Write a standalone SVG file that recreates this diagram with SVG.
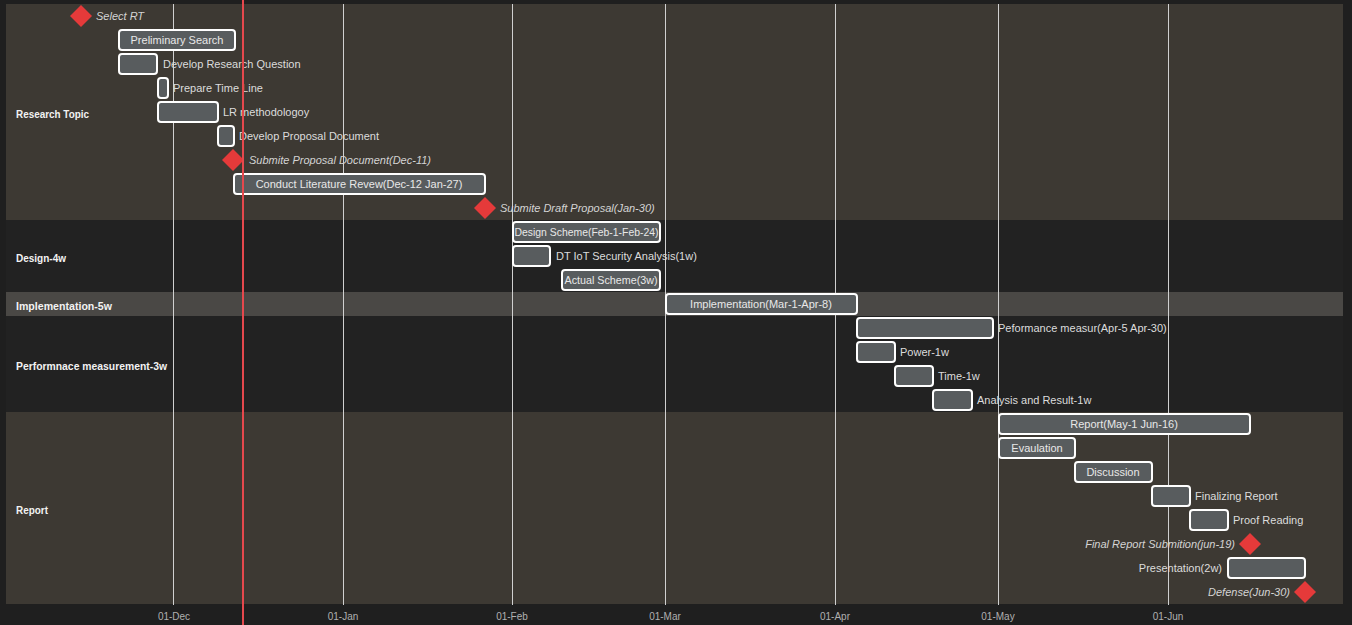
<svg xmlns="http://www.w3.org/2000/svg" width="1352" height="625" viewBox="0 0 1352 625">
<style>
text{font-family:"Liberation Sans",Arial,sans-serif;font-size:11px}
.sec{font-weight:bold;fill:#f2f2f2}
.bar{fill:#585c5e;stroke:#ffffff;stroke-width:2}
.in{fill:#e8e8e8;text-anchor:middle}
.out{fill:#dcdcdc}
.ms{fill:#e53a3a}
.mt{fill:#d4d4d4;font-style:italic}
.grid{stroke:#d0d0d0;stroke-width:1}
.tick{fill:#b0b0b0;font-size:10px;text-anchor:middle}
</style>
<rect x="0" y="0" width="1352" height="625" fill="#1f1f1f"/>
<g id="sections">
<rect x="6" y="4" width="1337" height="216" fill="#3d3933"/>
<rect x="6" y="220" width="1337" height="72" fill="#222222"/>
<rect x="6" y="292" width="1337" height="24" fill="#4a4845"/>
<rect x="6" y="316" width="1337" height="96" fill="#222222"/>
<rect x="6" y="412" width="1337" height="192" fill="#3d3933"/>
<text class="sec" x="16" y="118" textLength="73" lengthAdjust="spacingAndGlyphs">Research Topic</text>
<text class="sec" x="16" y="262" textLength="50" lengthAdjust="spacingAndGlyphs">Design-4w</text>
<text class="sec" x="16" y="310" textLength="96" lengthAdjust="spacingAndGlyphs">Implementation-5w</text>
<text class="sec" x="16" y="370" textLength="151" lengthAdjust="spacingAndGlyphs">Performnace measurement-3w</text>
<text class="sec" x="16" y="514" textLength="32" lengthAdjust="spacingAndGlyphs">Report</text>
</g>
<g id="grid">
<line class="grid" x1="173.5" y1="4" x2="173.5" y2="605"/>
<line class="grid" x1="343.5" y1="4" x2="343.5" y2="605"/>
<line class="grid" x1="512.5" y1="4" x2="512.5" y2="605"/>
<line class="grid" x1="665.5" y1="4" x2="665.5" y2="605"/>
<line class="grid" x1="835.5" y1="4" x2="835.5" y2="605"/>
<line class="grid" x1="998.5" y1="4" x2="998.5" y2="605"/>
<line class="grid" x1="1168.5" y1="4" x2="1168.5" y2="605"/>
<text class="tick" x="174" y="620">01-Dec</text>
<text class="tick" x="343" y="620">01-Jan</text>
<text class="tick" x="512" y="620">01-Feb</text>
<text class="tick" x="665" y="620">01-Mar</text>
<text class="tick" x="835" y="620">01-Apr</text>
<text class="tick" x="998" y="620">01-May</text>
<text class="tick" x="1168" y="620">01-Jun</text>
</g>
<g id="task-select-rt">
<polygon class="ms" points="81,5 92,16 81,27 70,16"/>
<text class="mt" x="96" y="20">Select RT</text>
</g>
<g id="task-preliminary-search">
<rect class="bar" x="119" y="30" width="116" height="20" rx="3"/>
<text class="in" x="177" y="44">Preliminary Search</text>
</g>
<g id="task-develop-research-question">
<rect class="bar" x="119" y="54" width="38" height="20" rx="3"/>
<text class="out" x="163" y="68">Develop Research Question</text>
</g>
<g id="task-prepare-time-line">
<rect class="bar" x="158" y="78" width="10" height="20" rx="3"/>
<text class="out" x="173" y="92">Prepare Time Line</text>
</g>
<g id="task-lr-methodology">
<rect class="bar" x="158" y="102" width="60" height="20" rx="3"/>
<text class="out" x="223" y="116">LR methodologoy</text>
</g>
<g id="task-develop-proposal">
<rect class="bar" x="218" y="126" width="16" height="20" rx="3"/>
<text class="out" x="239" y="140">Develop Proposal Document</text>
</g>
<g id="task-submite-proposal">
<polygon class="ms" points="233,149 244,160 233,171 222,160"/>
<text class="mt" x="249" y="164">Submite Proposal Document(Dec-11)</text>
</g>
<g id="task-conduct-lr">
<rect class="bar" x="234" y="174" width="251" height="20" rx="3"/>
<text class="in" x="359" y="188">Conduct Literature Revew(Dec-12 Jan-27)</text>
</g>
<g id="task-submite-draft">
<polygon class="ms" points="485,197 496,208 485,219 474,208"/>
<text class="mt" x="500" y="212">Submite Draft Proposal(Jan-30)</text>
</g>
<g id="task-design-scheme">
<rect class="bar" x="513" y="222" width="147" height="20" rx="3"/>
<text class="in" x="586.5" y="236" textLength="144" lengthAdjust="spacingAndGlyphs">Design Scheme(Feb-1-Feb-24)</text>
</g>
<g id="task-dt-iot">
<rect class="bar" x="513" y="246" width="37" height="20" rx="3"/>
<text class="out" x="556" y="260">DT IoT Security Analysis(1w)</text>
</g>
<g id="task-actual-scheme">
<rect class="bar" x="562" y="270" width="98" height="20" rx="3"/>
<text class="in" x="611" y="284" textLength="93" lengthAdjust="spacingAndGlyphs">Actual Scheme(3w)</text>
</g>
<g id="task-implementation">
<rect class="bar" x="666" y="294" width="191" height="20" rx="3"/>
<text class="in" x="761" y="308">Implementation(Mar-1-Apr-8)</text>
</g>
<g id="task-performance">
<rect class="bar" x="857" y="318" width="136" height="20" rx="3"/>
<text class="out" x="998" y="332">Peformance measur(Apr-5 Apr-30)</text>
</g>
<g id="task-power">
<rect class="bar" x="857" y="342" width="38" height="20" rx="3"/>
<text class="out" x="900" y="356">Power-1w</text>
</g>
<g id="task-time">
<rect class="bar" x="895" y="366" width="38" height="20" rx="3"/>
<text class="out" x="938" y="380">Time-1w</text>
</g>
<g id="task-analysis">
<rect class="bar" x="933" y="390" width="39" height="20" rx="3"/>
<text class="out" x="977" y="404">Analysis and Result-1w</text>
</g>
<g id="task-report">
<rect class="bar" x="999" y="414" width="251" height="20" rx="3"/>
<text class="in" x="1124" y="428">Report(May-1 Jun-16)</text>
</g>
<g id="task-evaulation">
<rect class="bar" x="999" y="438" width="76" height="20" rx="3"/>
<text class="in" x="1037" y="452">Evaulation</text>
</g>
<g id="task-discussion">
<rect class="bar" x="1075" y="462" width="77" height="20" rx="3"/>
<text class="in" x="1113" y="476">Discussion</text>
</g>
<g id="task-finalizing">
<rect class="bar" x="1152" y="486" width="38" height="20" rx="3"/>
<text class="out" x="1195" y="500">Finalizing Report</text>
</g>
<g id="task-proof-reading">
<rect class="bar" x="1190" y="510" width="38" height="20" rx="3"/>
<text class="out" x="1233" y="524">Proof Reading</text>
</g>
<g id="task-final-report-submition">
<polygon class="ms" points="1250,533 1261,544 1250,555 1239,544"/>
<text class="mt" x="1235" y="548" text-anchor="end">Final Report Submition(jun-19)</text>
</g>
<g id="task-presentation">
<rect class="bar" x="1228" y="558" width="77" height="20" rx="3"/>
<text class="out" x="1222" y="572" text-anchor="end">Presentation(2w)</text>
</g>
<g id="task-defense">
<polygon class="ms" points="1305,581 1316,592 1305,603 1294,592"/>
<text class="mt" x="1290" y="596" text-anchor="end">Defense(Jun-30)</text>
</g>
<g id="today">
<line x1="243" y1="0" x2="243" y2="625" stroke="#e5484d" stroke-width="2"/>
</g>
</svg>
